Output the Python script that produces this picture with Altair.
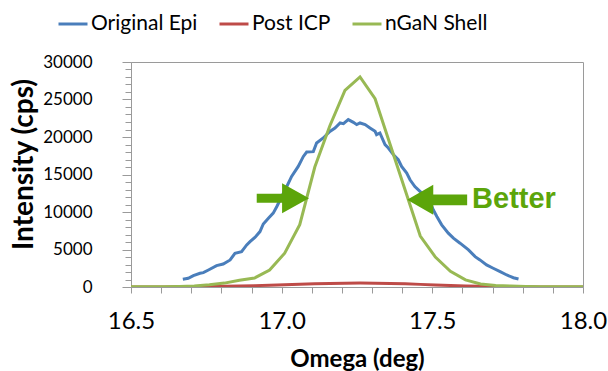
import altair as alt
import pandas as pd

# ---- data ----
series_names = ["Original Epi", "Post ICP", "nGaN Shell"]
series_colors = ["#4A7EBB", "#BE4B48", "#98B954"]

epi_x = [16.672, 16.690, 16.707, 16.729, 16.740, 16.757, 16.784, 16.806, 16.829, 16.845,
         16.867, 16.884, 16.895, 16.912, 16.928, 16.939, 16.956, 16.972, 16.984, 16.995,
         17.017, 17.033, 17.055, 17.072, 17.083, 17.105, 17.116, 17.138, 17.160, 17.177,
         17.194, 17.205, 17.221, 17.238, 17.249, 17.260, 17.277, 17.293, 17.310, 17.315,
         17.326, 17.343, 17.354, 17.371, 17.387, 17.398, 17.415, 17.426, 17.442, 17.459,
         17.476, 17.492, 17.503, 17.515, 17.531, 17.553, 17.570, 17.592, 17.620, 17.642,
         17.658, 17.680, 17.702, 17.725, 17.747, 17.769, 17.786]
epi_y = [1030, 1160, 1510, 1830, 1910, 2270, 2850, 3070, 3610, 4500,
         4720, 5610, 6050, 6640, 7390, 8400, 9180, 9850, 10730, 11630,
         13400, 14740, 16080, 17410, 18000, 18050, 19200, 19870, 20750, 21200,
         21870, 21780, 22320, 21960, 21650, 21870, 21650, 21210, 20750, 20310,
         20540, 18980, 18530, 17640, 16970, 16080, 15190, 14300, 13400, 12740,
         12070, 11400, 10290, 9390, 8290, 7180, 6510, 5840, 4940, 4050,
         3610, 2940, 2500, 2050, 1600, 1240, 1070]

grid_x = [16.50, 16.56, 16.61, 16.66, 16.71, 16.76, 16.81, 16.86, 16.91, 16.96,
          17.01, 17.06, 17.11, 17.16, 17.21, 17.26, 17.31, 17.36, 17.41, 17.46,
          17.51, 17.56, 17.61, 17.66, 17.71, 17.76, 17.81, 17.86, 17.91, 18.00]
icp_y = [10, 10, 15, 25, 40, 60, 90, 130, 180, 240,
         300, 360, 420, 470, 510, 520, 510, 480, 420, 350,
         280, 200, 140, 90, 55, 35, 20, 15, 10, 10]
shell_y = [20, 30, 50, 80, 140, 300, 520, 900, 1200, 2270,
           4500, 8300, 16000, 21500, 26200, 28000, 25100, 19000, 12900, 6800,
           4000, 2100, 950, 400, 200, 120, 70, 50, 30, 20]

x_ticks = [round(16.5 + 0.1 * i, 1) for i in range(16)]
y_ticks = list(range(0, 30001, 1000))

# annotation anchors (data coordinates)
arrow_r_x, arrow_r_y = [17.004], [11830]
arrow_l_x, arrow_l_y = [17.516], [11630]
note_x, note_y, note_text = [17.632], [10560], ["Better"]

rows = []
for name, xs, ys in zip(series_names, [epi_x, grid_x, grid_x], [epi_y, icp_y, shell_y]):
    for i, (a, b) in enumerate(zip(xs, ys)):
        rows.append({"series": name, "omega": a, "intensity": b, "order": i})
df = pd.DataFrame(rows)

AX = "#9a9a9a"
FONT = "Lato"

xscale = alt.Scale(domain=[16.5, 18.0], nice=False, zero=False)
yscale = alt.Scale(domain=[0, 30000], nice=False)

x_axis = alt.Axis(
    values=x_ticks,
    labelExpr="abs(datum.value*2 - round(datum.value*2)) < 0.001 ? format(datum.value, '.1f') : ''",
    tickSize=6, tickColor=AX, domainColor=AX, grid=False,
    labelPadding=16, labelFont=FONT, labelFontSize=24, labelColor="#000",
    labelFlush=False, labelOverlap=False,
    title="Omega (deg)", titleFont=FONT, titleFontSize=24, titleFontWeight="bold",
    titleColor="#000", titleY=79, titleBaseline="alphabetic",
)
y_axis = alt.Axis(
    values=y_ticks,
    labelExpr="datum.value % 5000 === 0 ? format(datum.value, 'd') : ''",
    tickSize={"condition": {"test": "datum.value % 5000 === 0", "value": 9}, "value": 6},
    tickColor=AX, domainColor=AX, grid=False,
    labelPadding=30, labelFont=FONT, labelFontSize=17, labelColor="#000",
    labelOverlap=False,
    title="Intensity (cps)", titleFont=FONT, titleFontSize=28, titleFontWeight="bold",
    titleColor="#000", titleX=-99, titleY=102, titleBaseline="alphabetic",
    titleAngle=270, titleAlign="center",
)

X = alt.X("omega:Q", scale=xscale, axis=x_axis)
Y = alt.Y("intensity:Q", scale=yscale, axis=y_axis)

lines = alt.Chart(df).mark_line(strokeWidth=3, clip=True).encode(
    x=X,
    y=Y,
    color=alt.Color(
        "series:N",
        scale=alt.Scale(domain=series_names, range=series_colors),
        legend=alt.Legend(
            title=None, orient="none", legendX=-74, legendY=-54,
            direction="horizontal", symbolType="stroke", symbolSize=841,
            symbolStrokeWidth=3, labelFont=FONT, labelFontSize=21,
            labelColor="#000", labelOffset=2, columnPadding=15, padding=0,
        ),
    ),
    order="order:Q",
)

GREEN = "#5CA50A"
arrow_right = alt.Chart(pd.DataFrame({"omega": arrow_r_x, "intensity": arrow_r_y})).mark_point(
    shape="M-1,-0.17L-0.03,-0.17L-0.03,-0.57L1,0L-0.03,0.57L-0.03,0.17L-1,0.17Z",
    size=2735, filled=True, fill=GREEN, strokeWidth=0, opacity=1,
).encode(x=X, y=Y)

arrow_left = alt.Chart(pd.DataFrame({"omega": arrow_l_x, "intensity": arrow_l_y})).mark_point(
    shape="M1,-0.18L-0.13,-0.18L-0.13,-0.5L-1,0L-0.13,0.5L-0.13,0.18L1,0.18Z",
    size=3600, filled=True, fill=GREEN, strokeWidth=0, opacity=1,
).encode(x=X, y=Y)

note = alt.Chart(pd.DataFrame({"omega": note_x, "intensity": note_y, "text": note_text})).mark_text(
    align="left", baseline="alphabetic", font="Liberation Sans", fontSize=29,
    fontWeight="bold", color=GREEN,
).encode(x=X, y=Y, text="text:N")

chart = alt.layer(lines, arrow_right, arrow_left, note).properties(
    width=452, height=225,
    autosize=alt.AutoSizeParams(type="none"),
    padding={"left": 131, "top": 62, "right": 25, "bottom": 84},
    background="white",
).configure_view(stroke=AX, strokeWidth=1)

chart.save("out.html", embed_options={"renderer": "svg", "actions": False})
